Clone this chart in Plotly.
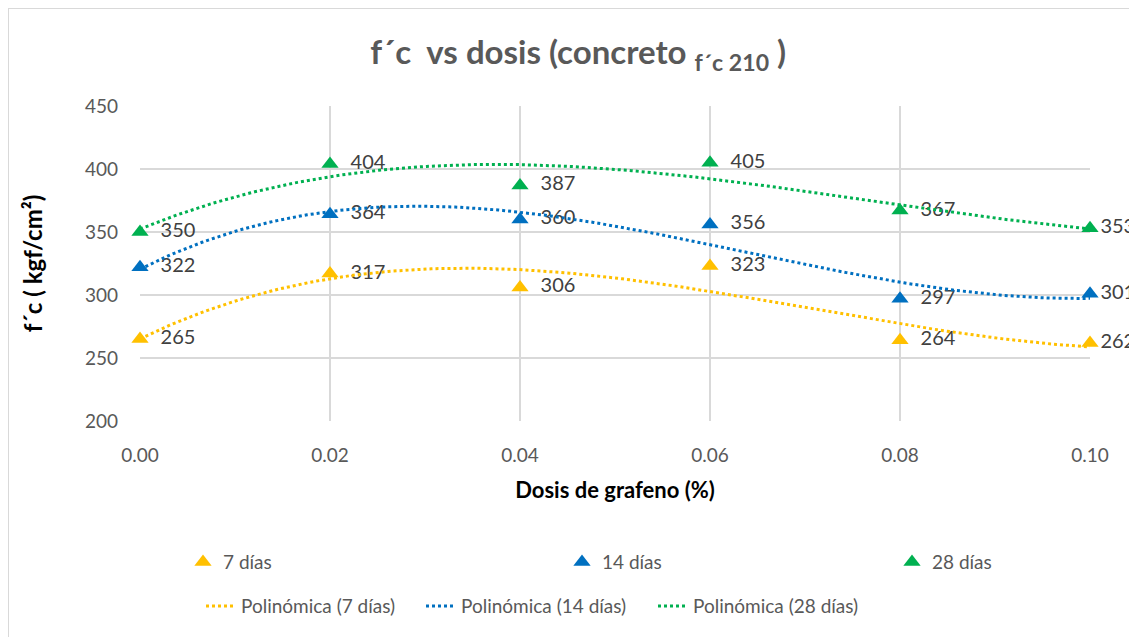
import numpy as np
import plotly.graph_objects as go

# Dosis de grafeno (%) and f'c values
dosis = [0.00, 0.02, 0.04, 0.06, 0.08, 0.10]
fc_7 = [265, 317, 306, 323, 264, 262]
fc_14 = [322, 364, 360, 356, 297, 301]
fc_28 = [350, 404, 387, 405, 367, 353]

series = [
    ("7 días", fc_7, "#FFC000"),
    ("14 días", fc_14, "#0070C0"),
    ("28 días", fc_28, "#00B050"),
]

FONT = "Lato"
TEXT = "#595959"

# the page body adds 8px, so the figure is 8px smaller than the window
W, H = 1129, 629
L, R, T, B = 132, 47, 98, 216
PW, PH = W - L - R, H - T - B

fig = go.Figure()

# markers with data labels (first legend row, one legend per entry)
row1_x = [175, 554, 884]
for i, (name, vals, color) in enumerate(series):
    labels = [f"  {v}" for v in vals[:-1]] + [f"{vals[-1]}"]
    fig.add_trace(go.Scatter(
        x=dosis, y=vals, mode="markers+text", name=name,
        marker=dict(symbol="triangle-up", size=15, color=color),
        text=labels, textposition="middle right",
        textfont=dict(family=FONT, size=20, color="#404040"),
        legend="legend" if i == 0 else f"legend{i + 1}",
        showlegend=True, cliponaxis=False,
    ))

# polynomial trendlines (like Excel, order 3)
xs = np.linspace(dosis[0], dosis[-1], 200)
row2_x = [193, 413, 645]
for i, (name, vals, color) in enumerate(series):
    coef = np.polyfit(dosis, vals, 3)
    fig.add_trace(go.Scatter(
        x=xs, y=np.polyval(coef, xs), mode="lines",
        name=f"Polinómica ({name})",
        line=dict(color=color, width=3, dash="dot"),
        legend=f"legend{i + 4}", showlegend=True, hoverinfo="skip",
    ))

legends = {}
for i, px_x in enumerate(row1_x + row2_x):
    key = "legend" if i == 0 else f"legend{i + 1}"
    legends[key] = dict(
        orientation="h", xref="container", yref="container",
        x=px_x / W, y=0.119 if i < 3 else 0.049,
        xanchor="left", yanchor="middle",
        font=dict(family=FONT, size=19, color=TEXT),
        bgcolor="rgba(0,0,0,0)",
    )

fig.update_layout(
    width=W, height=H, showlegend=True,
    paper_bgcolor="white", plot_bgcolor="white",
    font=dict(family=FONT, color=TEXT, size=18),
    margin=dict(l=L, r=R, t=T, b=B),
    title=dict(
        text="<b>f´c  vs dosis (concreto <sub>f´c 210</sub> )</b>",
        x=0.505, xanchor="center", y=0.93, yanchor="middle",
        font=dict(family=FONT, size=33, color=TEXT),
    ),
    shapes=[
        dict(type="line", xref="paper", yref="paper",
             x0=-L / PW, x1=1 + R / PW, y0=1 + T / PH, y1=1 + T / PH,
             line=dict(color="#D9D9D9", width=2)),
        dict(type="line", xref="paper", yref="paper",
             x0=-L / PW, x1=-L / PW, y0=-B / PH, y1=1 + T / PH,
             line=dict(color="#D9D9D9", width=2)),
    ],
    **legends,
)

fig.update_xaxes(
    range=[0, 0.10], tickvals=dosis, tickformat=".2f",
    showgrid=True, gridcolor="#D9D9D9", gridwidth=1.5,
    zeroline=False, showline=False, ticks="", ticklabelstandoff=21,
    tickfont=dict(family=FONT, size=19, color=TEXT),
    title=dict(text="<b>Dosis de grafeno (%)</b>", standoff=17,
               font=dict(family=FONT, size=22, color="#000000")),
)
fig.update_yaxes(
    range=[200, 450], dtick=50,
    showgrid=True, gridcolor="#D9D9D9", gridwidth=1.5,
    zeroline=False, showline=False, ticks="", ticklabelstandoff=21,
    tickfont=dict(family=FONT, size=19, color=TEXT),
    title=dict(text="<b>f´c ( kgf/cm²)</b>", standoff=35,
               font=dict(family=FONT, size=24, color="#000000")),
)

fig.write_html("out.html")
